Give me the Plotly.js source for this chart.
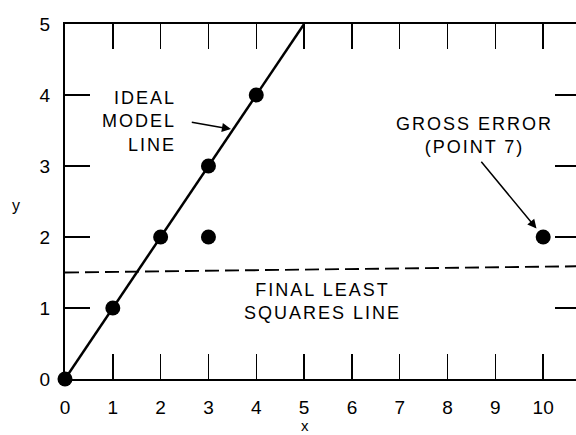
<!DOCTYPE html>
<html>
<head>
<meta charset="utf-8">
<script src="https://cdn.plot.ly/plotly-3.0.1.min.js"></script>
<style>
  html, body { margin: 0; padding: 0; overflow: hidden; background: #fff; }
  .annotation-text { letter-spacing: 2px; }
</style>
</head>
<body>
<div id="plot"></div>
<script>
// measured points
var pointsX = [0, 1, 2, 3, 4, 3, 10];
var pointsY = [0, 1, 2, 3, 4, 2, 2];

// ideal model line y = x
var idealX = [0, 5];
var idealY = [0, 5];

// final least squares line
var lsqX = [0, 11];
var lsqY = [1.5, 1.59];

var xTicks = [0, 1, 2, 3, 4, 5, 6, 7, 8, 9, 10];
var yTicks = [0, 1, 2, 3, 4, 5];

var font = 'Liberation Sans, Arial, sans-serif';

var ideal = {
  x: idealX, y: idealY, mode: 'lines', type: 'scatter',
  line: {color: '#000', width: 2.5}, hoverinfo: 'skip'
};

var lsq = {
  x: lsqX, y: lsqY, mode: 'lines', type: 'scatter',
  line: {color: '#000', width: 1.9, dash: '14px,6px'}, hoverinfo: 'skip'
};

var pts = {
  x: pointsX, y: pointsY, mode: 'markers', type: 'scatter',
  marker: {color: '#000', size: 15}, cliponaxis: false
};

var axisStyle = {
  showgrid: false, zeroline: false,
  showline: true, linecolor: '#000', linewidth: 2,
  mirror: 'allticks', ticks: 'inside', ticklen: 25, tickwidth: 1.4, tickcolor: '#000',
  tickfont: {family: font, size: 19, color: '#000'}
};

var layout = {
  width: 584, height: 435,
  margin: {l: 65, r: 4, t: 24, b: 56},
  showlegend: false,
  paper_bgcolor: '#fff', plot_bgcolor: '#fff',
  xaxis: Object.assign({}, axisStyle, {range: [0, 10.77], tickvals: xTicks, ticklabelstandoff: 10}),
  yaxis: Object.assign({}, axisStyle, {range: [0, 5], tickvals: yTicks, ticklabelstandoff: 9}),
  annotations: [
    {x: 2.36, y: 3.62, xref: 'x', yref: 'y', text: 'IDEAL<br>MODEL<br>LINE',
     xanchor: 'right', align: 'right', showarrow: false,
     font: {family: font, size: 18, color: '#000'}},
    {x: 3.47, y: 3.52, xref: 'x', yref: 'y', ax: 2.62, ay: 3.62, axref: 'x', ayref: 'y',
     text: '', showarrow: true, arrowhead: 2, arrowsize: 1.2, arrowwidth: 1.5, arrowcolor: '#000'},
    {x: 8.57, y: 3.43, xref: 'x', yref: 'y', text: 'GROSS ERROR<br>(POINT 7)',
     showarrow: false, font: {family: font, size: 18, color: '#000'}},
    {x: 9.86, y: 2.12, xref: 'x', yref: 'y', ax: 8.68, ay: 3.08, axref: 'x', ayref: 'y',
     text: '', showarrow: true, arrowhead: 2, arrowsize: 1.2, arrowwidth: 1.5, arrowcolor: '#000'},
    {x: 5.38, y: 1.09, xref: 'x', yref: 'y', text: 'FINAL LEAST<br>SQUARES LINE',
     showarrow: false, font: {family: font, size: 18, color: '#000'}},
    {x: 5.04, y: -0.132, xref: 'x', yref: 'paper', xanchor: 'center', yanchor: 'middle',
     text: 'x', showarrow: false, font: {family: font, size: 15, color: '#000'}},
    {x: -0.093, y: 0.49, xref: 'paper', yref: 'paper', xanchor: 'center', yanchor: 'middle',
     text: 'y', showarrow: false, font: {family: font, size: 16, color: '#000'}}
  ]
};

Plotly.newPlot('plot', [lsq, ideal, pts], layout, {staticPlot: true});
</script>
</body>
</html>
